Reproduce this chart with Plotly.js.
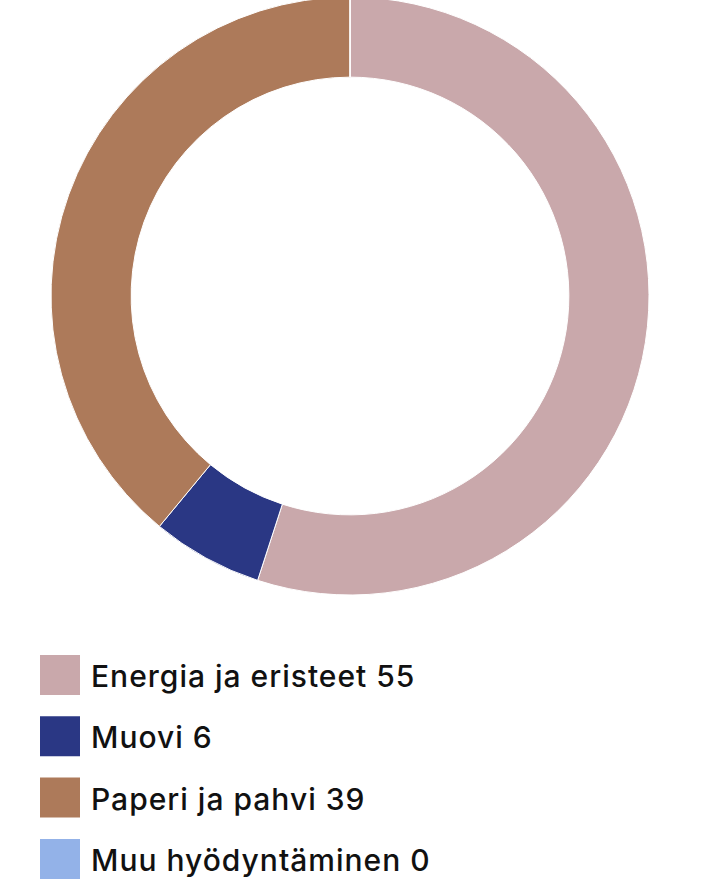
<!DOCTYPE html>
<html>
<head>
<meta charset="utf-8">
<script src="https://cdn.plot.ly/plotly-3.0.1.min.js"></script>
<style>
html,body{margin:0;padding:0;background:#fff;overflow:hidden;}
#chart{position:absolute;left:0;top:-3px;width:705px;height:884px;}
#chart .annotation-text{letter-spacing:1px;}
</style>
</head>
<body>
<div id="chart"></div>
<script>
var labels = ["Energia ja eristeet", "Muovi", "Paperi ja pahvi", "Muu hyödyntäminen"];
var values = [55, 6, 39, 0];
var colors = ["#c9a8ab", "#2a3784", "#ad7a5a", "#93b2e8"];

var W = 705, H = 884;
var pieTrace = {
  type: "pie",
  labels: labels,
  values: values,
  hole: 0.732,
  sort: false,
  direction: "clockwise",
  rotation: 0,
  textinfo: "none",
  hoverinfo: "label+value",
  marker: {colors: colors, line: {color: "#ffffff", width: 1}},
  domain: {x: [51 / W, 649 / W], y: [(H - 598) / H, 1]},
  showlegend: false
};

var shapes = [], annotations = [];
var firstCenter = 678, step = 61.3;
for (var i = 0; i < labels.length; i++) {
  var cy = firstCenter + i * step;
  shapes.push({
    type: "rect", xref: "paper", yref: "paper",
    x0: 40 / W, x1: 80 / W,
    y0: 1 - (cy + 20) / H, y1: 1 - (cy - 20) / H,
    fillcolor: colors[i], line: {width: 0}
  });
  annotations.push({
    xref: "paper", yref: "paper",
    x: 89 / W, y: 1 - (cy + 1) / H,
    xanchor: "left", yanchor: "middle", align: "left",
    text: labels[i] + " " + values[i],
    showarrow: false,
    font: {family: "Inter, Roboto, sans-serif", size: 30, weight: 500, color: "#111111"}
  });
}

Plotly.newPlot("chart", [pieTrace], {
  width: W, height: H,
  margin: {l: 0, r: 0, t: 0, b: 0},
  paper_bgcolor: "#ffffff",
  showlegend: false,
  shapes: shapes,
  annotations: annotations
}, {displayModeBar: false, staticPlot: true});
</script>
</body>
</html>
